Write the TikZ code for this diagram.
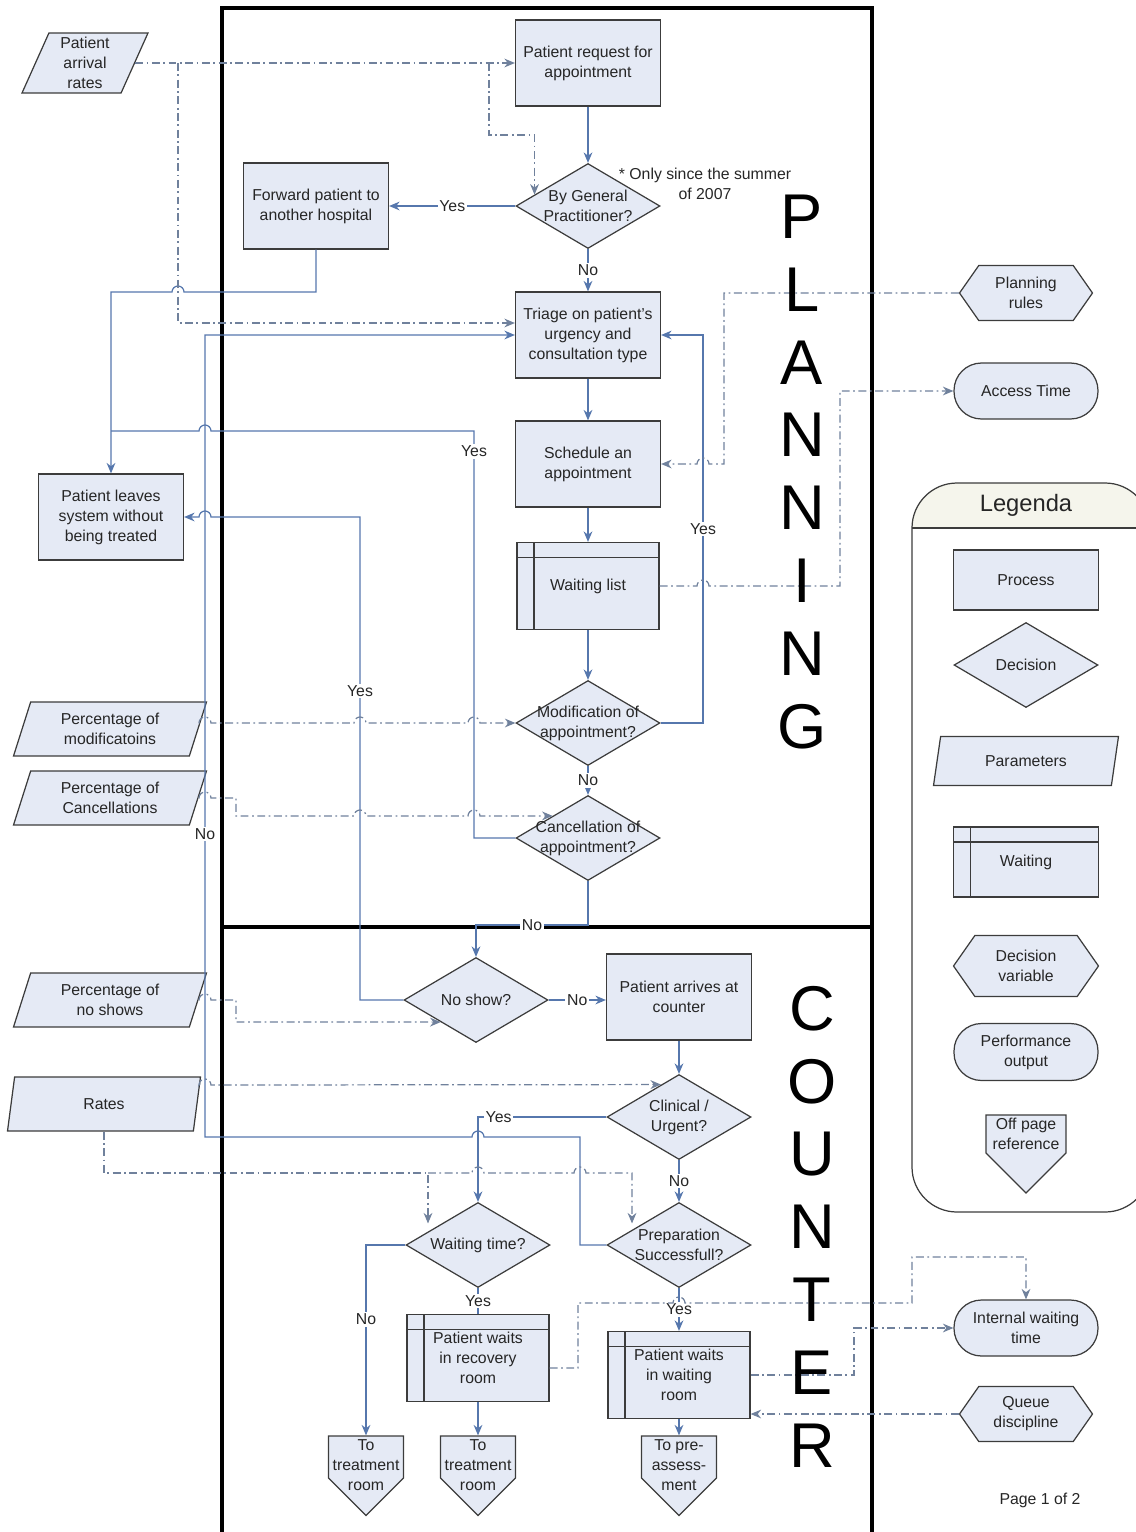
\documentclass[tikz,border=0pt]{standalone}
\usepackage{fontspec}
\setmainfont{Liberation Sans}
\usepackage{xcolor}
\usetikzlibrary{shapes.geometric, shapes.symbols, shapes.misc, arrows.meta, positioning, calc}

\definecolor{boxfill}{RGB}{229,234,245}
\definecolor{edgegray}{RGB}{60,60,60}
\definecolor{textgray}{RGB}{38,38,38}
\definecolor{flowblue}{RGB}{86,119,173}
\definecolor{infogray}{RGB}{112,129,156}
\definecolor{legendhead}{RGB}{245,245,236}

\newcommand{\nodefont}{\fontsize{9}{11.4}\selectfont}

\tikzset{
  base/.style={draw=edgegray, fill=boxfill, line width=0.7pt, text=textgray, font=\nodefont, align=center, inner sep=1pt},
  dtext/.style={align=center, font=\nodefont, text=textgray, inner sep=0pt},
  process/.style={base, rectangle, minimum width=2.9cm, minimum height=1.72cm},
  decision/.style={base, diamond, minimum width=2.88cm, minimum height=1.7cm, inner sep=0pt, label={[dtext]center:#1}},
  waiting/.style={base, rectangle, minimum width=2.84cm, minimum height=1.74cm,
    path picture={\draw[draw=edgegray, line width=0.7pt]
      ([xshift=0.34cm]path picture bounding box.north west) -- ([xshift=0.34cm]path picture bounding box.south west)
      ([yshift=-0.3cm]path picture bounding box.north west) -- ([yshift=-0.3cm]path picture bounding box.north east);}},
  param/.style={base, trapezium, trapezium left angle=64, trapezium right angle=116, trapezium stretches body, minimum width=3.86cm, minimum height=1.08cm},
  hexa/.style={base, signal, signal to=east and west, signal pointer angle=110, minimum width=2.66cm, minimum height=1.1cm},
  terminal/.style={base, rectangle, rounded corners=0.55cm, minimum width=2.88cm, minimum height=1.12cm},
  offpage/.style={base, signal, signal to=south, signal pointer angle=90, minimum width=1.5cm, minimum height=0.84cm, inner sep=0pt, label={[dtext,anchor=north,yshift=-2pt]north:#1}},
  flow/.style={draw=flowblue, line width=0.7pt},
  info/.style={draw=infogray, line width=0.7pt, dash pattern=on 4.5pt off 2pt on 1pt off 2pt},
  lbl/.style={fill=white, inner sep=1pt, text=textgray, font=\nodefont},
  note/.style={text=textgray, font=\nodefont, align=center, inner sep=0pt},
  bigletter/.style={font=\fontsize{36}{36}\selectfont, text=black, inner sep=0pt},
  frame/.style={draw=black, line width=1.8pt},
  legendbox/.style={draw=edgegray, line width=0.7pt, rounded corners=0.9cm},
}

\begin{document}
\begin{tikzpicture}[x=0.02cm,y=-0.02cm,>={Stealth[length=6pt,width=5pt]}]
\useasboundingbox (0,0) rectangle (1136,1532);

% frames
\draw[frame] (222,1532) -- (222,8) -- (872,8) -- (872,1532);
\draw[frame] (222,927) -- (872,927);

% planning part
\node[param, minimum width=2.52cm, minimum height=1.2cm] (arrival) at (85,63) {Patient\\arrival\\rates};
\node[process] (request) at (588,63) {Patient request for\\appointment};
\node[decision={By General\\Practitioner?}] (gp) at (588,206) {};
\node[note] (note) at (705,184) {* Only since the summer\\of 2007};
\node[process] (forward) at (316,206) {Forward patient to\\another hospital};
\node[process] (triage) at (588,335) {Triage on patient's\\urgency and\\consultation type};
\node[process] (schedule) at (588,464) {Schedule an\\appointment};
\node[waiting] (wlist) at (588,586) {Waiting list};
\node[decision={Modification of\\appointment?}] (modif) at (588,723) {};
\node[decision={Cancellation of\\appointment?}] (cancel) at (588,838) {};
\node[process] (leaves) at (111,517) {Patient leaves\\system without\\being treated};
\node[param] (pmod) at (110,729) {Percentage of\\modificatoins};
\node[param] (pcanc) at (110,798) {Percentage of\\Cancellations};
\node[param] (pnoshow) at (110,1000) {Percentage of\\no shows};
\node[param] (rates) at (104,1104) {Rates};
\node[hexa] (prules) at (1026,293) {Planning\\rules};
\node[terminal] (access) at (1026,391) {Access Time};

% counter part
\node[decision={No show?}] (noshow) at (476,1000) {};
\node[process] (arrives) at (679,997) {Patient arrives at\\counter};
\node[decision={Clinical /\\Urgent?}] (clinical) at (679,1117) {};
\node[decision={Waiting time?}] (wtime) at (478,1245) {};
\node[decision={Preparation\\Successfull?}] (prep) at (679,1245) {};
\node[waiting] (recovery) at (478,1358) {Patient waits\\in recovery\\room};
\node[waiting] (wroom) at (679,1375) {Patient waits\\in waiting\\room};
\node[offpage={To\\treatment\\room}] (off1) at (366,1457) {};
\node[offpage={To\\treatment\\room}] (off2) at (478,1457) {};
\node[offpage={To pre-\\assess-\\ment}] (off3) at (679,1457) {};
\node[terminal] (internal) at (1026,1328) {Internal waiting\\time};
\node[hexa] (queue) at (1026,1414) {Queue\\discipline};
\node[note] (page) at (1040,1500) {Page 1 of 2};

% flow
\draw[flow,->] (request) -- (gp);
\draw[flow,->] (gp) -- node[lbl] {Yes} (forward);
\draw[flow,->] (gp) -- node[lbl] {No} (triage);
\draw[flow,->] (forward.south) -- (316,292) -- (184,292) arc[start angle=0,end angle=180,radius=0.12cm] -- (111,292) -- (leaves.north);
\draw[flow,->] (triage) -- (schedule);
\draw[flow,->] (schedule) -- (wlist);
\draw[flow,->] (wlist) -- (modif);
\draw[flow,->] (modif.east) -- (703,723) -- node[lbl] {Yes} (703,335) -- (triage.east);
\draw[flow,->] (modif) -- node[lbl] {No} (cancel);
\draw[flow] (cancel.west) -- (474,838) -- node[lbl,pos=0.95] {Yes} (474,431) -- (211,431) arc[start angle=0,end angle=180,radius=0.12cm] -- (111,431);
\draw[flow,->] (cancel.south) -- (588,925) -- node[lbl] {No} (476,925) -- (noshow.north);
\draw[flow,->] (noshow.west) -- (360,1000) -- node[lbl,pos=0.64] {Yes} (360,517) -- (211,517) arc[start angle=0,end angle=180,radius=0.12cm] -- (leaves.east);
\draw[flow,->] (noshow.east) -- node[lbl] {No} (noshow.east -| arrives.west);
\draw[flow,->] (arrives) -- (clinical);
\draw[flow,->] (clinical.west) -- node[lbl,pos=0.84] {Yes} (478,1117) -- (wtime.north);
\draw[flow,->] (clinical) -- node[lbl] {No} (prep);
\draw[flow,->] (prep.west) -- (580,1245) -- (580,1137) -- (484,1137) arc[start angle=0,end angle=180,radius=0.12cm] -- (205,1137) -- node[lbl,pos=0.378] {No} (205,335) -- (triage.west);
\draw[flow,->] (prep) -- node[lbl] {Yes} (wroom);
\draw[flow,->] (wtime.west) -- (366,1245) -- node[lbl,pos=0.39] {No} (off1.north);
\draw[flow] (wtime) -- node[lbl] {Yes} (recovery);
\draw[flow,->] (recovery) -- (off2);
\draw[flow,->] (wroom) -- (off3);

% parameters and outputs
\coordinate (arrsplit) at (178,63);
\coordinate (ratesplit) at (428,1173);
\draw[info,->] (arrival.east) -- (arrival.east -| request.west);
\draw[info,->] (arrsplit) -- (178,323) -- (triage.west |- 178,323);
\draw[info,->] (489,63) -- (489,135) -| (gp.168);
\draw[info,->] (prules.west) -- (724,293) -- (724,464) -- (709,464) arc[start angle=0,end angle=180,radius=0.12cm] -- (schedule.east);
\draw[info,->] (wlist.east) -- (697,586) arc[start angle=180,end angle=0,radius=0.12cm] -- (840,586) -- (840,391) -- (access.west);
\draw[info,->] (pmod.east |- modif.west) -- (199,723) arc[start angle=180,end angle=0,radius=0.12cm] -- (354,723) arc[start angle=180,end angle=0,radius=0.12cm] -- (468,723) arc[start angle=180,end angle=0,radius=0.12cm] -- (modif.west);
\draw[info,->] (pcanc.east) -- (199,798) arc[start angle=180,end angle=0,radius=0.12cm] -- (236,798) -- (236,816) -- (354,816) arc[start angle=180,end angle=0,radius=0.12cm] -- (468,816) arc[start angle=180,end angle=0,radius=0.12cm] -- (cancel.148);
\draw[info,->] (pnoshow.east) -- (199,1000) arc[start angle=180,end angle=0,radius=0.12cm] -- (236,1000) -- (236,1022) -- (noshow.212);
\draw[info,->] (rates.12) -- (199,1085) arc[start angle=180,end angle=0,radius=0.12cm] -- (clinical.119);
\draw[info,->] (rates.south) |- (ratesplit) -- (ratesplit |- wtime.north west);
\draw[info,->] (ratesplit) -- (472,1173) arc[start angle=180,end angle=0,radius=0.12cm] -- (574,1173) arc[start angle=180,end angle=0,radius=0.12cm] -- (632,1173) -- (632,1173 |- prep.north west);
\draw[info,->] ([yshift=-0.2cm]recovery.east) -- (578,1368) -- (578,1303) -- (673,1303) arc[start angle=180,end angle=0,radius=0.12cm] -- (912,1303) -- (912,1257) -| (internal.north);
\draw[info,->] (wroom.east) -- (854,1375) |- (internal.west);
\draw[info,->] (queue.west) -- (queue.west -| wroom.east);

% legend
\begin{scope}
  \clip (912,483) rectangle (1150,528);
  \fill[legendhead, rounded corners=0.9cm] (912,483) rectangle (1150,1212);
\end{scope}
\draw[legendbox] (912,483) rectangle (1150,1212);
\draw[draw=edgegray, line width=0.7pt] (912,528) -- (1136,528);
\node[note, font=\fontsize{13.5}{16}\selectfont] (legtitle) at (1026,505) {Legenda};
\node[process, minimum height=1.2cm] (lgproc) at (1026,580) {Process};
\node[decision={Decision}] (lgdec) at (1026,665) {};
\node[param, minimum width=3.7cm, minimum height=0.98cm] (lgpar) at (1026,761) {Parameters};
\node[waiting, minimum width=2.9cm, minimum height=1.4cm] (lgwait) at (1026,862) {Waiting};
\node[hexa, minimum width=2.9cm, minimum height=1.22cm] (lgvar) at (1026,966) {Decision\\variable};
\node[terminal, minimum height=1.14cm] (lgout) at (1026,1052) {Performance\\output};
\node[offpage={Off page\\reference}, minimum width=1.6cm, minimum height=0.76cm] (lgoff) at (1026,1134) {};

% side titles
\foreach \ch [count=\i] in {P,L,A,N,N,I,N,G}
  \node[bigletter] (plan\i) at (802,144+72.8*\i) {\ch};
\foreach \ch [count=\i] in {C,O,U,N,T,E,R}
  \node[bigletter] (cnt\i) at (812,936+72.8*\i) {\ch};
\end{tikzpicture}
\end{document}
